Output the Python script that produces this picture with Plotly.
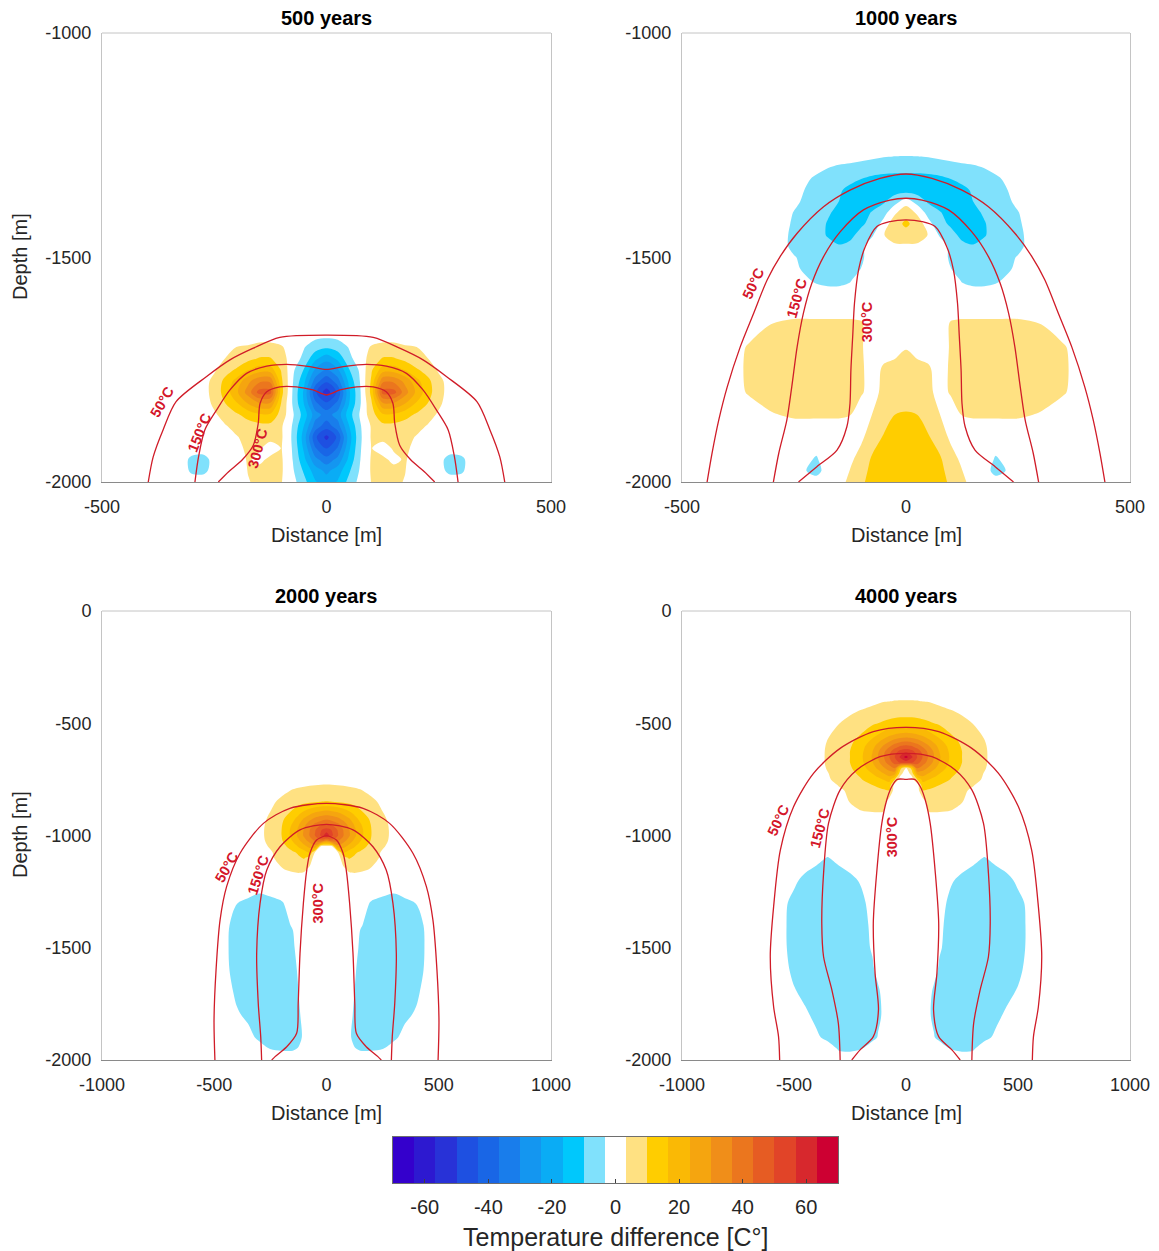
import plotly.graph_objects as go

FIG_W, FIG_H = 1159, 1251
FONT = "Arial, Liberation Sans, Helvetica, sans-serif"

# ---------------- colour bands (21 bands, -70 .. 70) ----------------
BAND_COLORS = [
    "rgb(52,0,204)", "rgb(45,25,208)", "rgb(40,50,215)", "rgb(30,80,225)",
    "rgb(25,102,230)", "rgb(25,125,235)", "rgb(20,150,240)", "rgb(10,172,245)",
    "rgb(0,200,252)", "rgb(128,225,252)", "rgb(255,255,255)", "rgb(255,225,130)",
    "rgb(255,205,0)", "rgb(250,185,5)", "rgb(245,165,15)", "rgb(240,142,25)",
    "rgb(235,118,30)", "rgb(230,92,35)", "rgb(225,68,40)", "rgb(215,40,45)",
    "rgb(205,0,50)",
]
BAND_MIN, BAND_MAX = -70.0, 70.0
CBAR_TICKS = [-60, -40, -20, 0, 20, 40, 60]

PANEL_TITLES = ["500 years", "1000 years", "2000 years", "4000 years"]
ISO_LEVELS = ["50°C", "150°C", "300°C"]

# ---------------- panel 1 : 500 years (half grid, x >= 0) ----------------
P1_X = [0, 25, 50, 75, 100, 125, 150, 175, 200, 225, 250, 275, 300, 325, 550]
P1_Y = [-2000, -1975, -1950, -1925, -1900, -1875, -1850, -1825, -1800,
        -1775, -1750, -1725, -1700, -1675, -1650, -950]
P1_Z = [
    [-20, -16, -8, -1, 3.5, 4.5, 4.5, 3, 0, 0, 0, 0, 0, 0, 0],
    [-25, -20, -11, -2.5, 4, 5, 5, 3.5, 0, 0, -1, -5, -4.5, 0, 0],
    [-34, -28, -15, -3.5, 4, 4.5, 2, 4, 0, 0, -1, -6, -5, 0, 0],
    [-44, -36, -18, -4, 3.5, 1, 4, 5, 1, 0, 0, 0, 0, 0, 0],
    [-52, -42, -20, -4.5, 4, 5, 7, 5, 3, 0, 0, 0, 0, 0, 0],
    [-40, -33, -17, -4, 4, 8, 8, 7, 5, 3, 0.5, 0, 0, 0, 0],
    [-33, -27, -13, -2.5, 7, 15.5, 15.5, 12.5, 9, 5.5, 2.5, 0, 0, 0, 0],
    [-42, -35, -17, -4, 9, 29, 29, 23.5, 16, 10, 4.5, 0.5, 0, 0, 0],
    [-54, -42, -18, -4, 12, 46, 46, 33, 22, 13, 5.5, 1, 0, 0, 0],
    [-42, -33, -15, -3, 11, 35, 35, 28, 19, 12, 5, 1, 0, 0, 0],
    [-30, -24, -10.5, -2, 9, 20, 20, 16, 11, 7, 2.5, 0, 0, 0, 0],
    [-21, -15, -5, 0, 6, 10.5, 10.5, 8, 5, 3.5, 0, 0, 0, 0, 0],
    [-9, -7, -3, 0, 4, 5, 5, 4, 3.5, 1, 0, 0, 0, 0, 0],
    [-2, -1.5, -0.5, 0, 0, 1, 1, 0.5, 0, 0, 0, 0, 0, 0, 0],
    [0, 0, 0, 0, 0, 0, 0, 0, 0, 0, 0, 0, 0, 0, 0],
    [0, 0, 0, 0, 0, 0, 0, 0, 0, 0, 0, 0, 0, 0, 0],
]
P1_ISO50 = [(-397, -2000), (-386, -1944), (-364, -1884), (-335, -1821), (-267, -1765),
            (-215, -1728), (-163, -1702), (-104, -1678), (0, -1673)]
P1_ISO150 = [(-293, -2000), (-285, -1944), (-271, -1884), (-245, -1840), (-215, -1795),
             (-178, -1758), (-133, -1742), (-89, -1738), (-37, -1743), (0, -1749)]
P1_ISO300 = [(-241, -2000), (-218, -1977), (-188, -1951), (-163, -1918), (-152, -1869),
             (-148, -1825), (-133, -1799), (-104, -1788), (-67, -1788), (-30, -1795), (0, -1806)]
P1_LABEL_POS = [(-366, -1822, -60), (-282, -1889, -68), (-153, -1924, -75)]

# ---------------- panel 2 : 1000 years ----------------
P2_X = [0, 25, 50, 75, 100, 125, 150, 175, 200, 250, 300, 350, 400, 550]
P2_Y = [-2000, -1975, -1950, -1900, -1850, -1800, -1750, -1700, -1650, -1600,
        -1575, -1550, -1525, -1500, -1475, -1450, -1425, -1400, -1375, -1350,
        -1325, -1300, -1275, -1250, -950]
P2_Z = [
    [15, 14.5, 13.5, 12, 9, 4.5, 1.5, 0, 0, 0, 0, 0, 0, 0],
    [14.5, 14, 13, 11.5, 8, 3.5, 0.5, 0, -6, 0, 0, 0, 0, 0],
    [14, 13.5, 12.5, 11, 6, 2, 0, 0, -4, 0, 0, 0, 0, 0],
    [13, 12.5, 10.5, 7, 2, 0, 0, 0, 0, 0, 0, 0, 0, 0],
    [10.5, 10, 7, 3.5, 0, 3.5, 4, 4, 4, 4, 3, 0, 0, 0],
    [7, 7, 5, 1, 4, 6, 6, 6, 6, 6, 5.5, 4, 0, 0],
    [6, 5.5, 4.5, 0, 4.5, 6, 6, 6, 6, 6, 6, 4.5, 0, 0],
    [3, 1, 0, 0, 4, 6, 6, 6, 6, 6, 5.5, 4, 0, 0],
    [0, 0, 0, 0, 4, 4.5, 4.5, 4.5, 4.5, 4.5, 3.5, 0.5, 0, 0],
    [0, 0, 0, 0, 0, 0, 0, 0, 0, 0, 0, 0, 0, 0],
    [0, 0, 0, 0, 0, -1, -2, -2, -1, 0, 0, 0, 0, 0],
    [0, 0, 0, 0, 0, -4, -5, -5, -4.5, 0, 0, 0, 0, 0],
    [0, 0, 0, 0, -3.2, -6, -6.5, -6.5, -5.5, -2.5, 0, 0, 0, 0],
    [0, 0, 0, 0, -4.5, -6.5, -7, -7, -6, -3, 0, 0, 0, 0],
    [2, 2, 1, 0.5, -5, -8.5, -9.5, -8, -6.5, -4.5, 0, 0, 0, 0],
    [8, 7, 3, -4, -8, -11.5, -12.5, -10.5, -7.5, -4.5, 0, 0, 0, 0],
    [11, 8, -1, -8, -11, -13, -13, -10.5, -7, -4, 0, 0, 0, 0],
    [8, 2, -6, -9.5, -12.5, -13, -12, -9, -6, -3.5, 0, 0, 0, 0],
    [0, -6, -11, -13, -13.5, -13, -10, -7.5, -5.5, -2.5, 0, 0, 0, 0],
    [-13, -13, -13, -13, -12.5, -12, -9, -7, -5.5, -1.5, 0, 0, 0, 0],
    [-12, -12, -11.5, -11, -10, -8, -6.5, -5.5, -4.5, 0, 0, 0, 0, 0],
    [-8, -8, -8, -7.5, -6.5, -5.5, -4.5, -3.2, -1.5, 0, 0, 0, 0, 0],
    [-3.5, -3.4, -3, -2, -1, 0, 0, 0, 0, 0, 0, 0, 0, 0],
    [0, 0, 0, 0, 0, 0, 0, 0, 0, 0, 0, 0, 0, 0],
    [0, 0, 0, 0, 0, 0, 0, 0, 0, 0, 0, 0, 0, 0],
]
P2_ISO50 = [(-444, -2000), (-433, -1936), (-418, -1862), (-399, -1788), (-370, -1699),
            (-340, -1624), (-310, -1550), (-281, -1498), (-243, -1446), (-184, -1387),
            (-125, -1350), (-58, -1324), (0, -1314)]
P2_ISO150 = [(-296, -2000), (-284, -1936), (-266, -1862), (-255, -1788), (-243, -1699),
             (-229, -1624), (-210, -1557), (-184, -1498), (-147, -1443), (-95, -1394),
             (-36, -1372), (0, -1368)]
P2_ISO300 = [(-240, -2000), (-199, -1966), (-154, -1929), (-132, -1877), (-125, -1825),
             (-123, -1751), (-119, -1676), (-115, -1602), (-106, -1528), (-91, -1476),
             (-65, -1431), (-36, -1420), (0, -1416)]
P2_LABEL_POS = [(-340, -1557, -65), (-243, -1591, -74), (-88, -1643, -90)]

# ---------------- panel 3 : 2000 years ----------------
P3_X = [0, 25, 50, 75, 100, 125, 150, 200, 250, 300, 350, 400, 450, 500, 1050]
P3_Y = [-2000, -1950, -1900, -1800, -1700, -1600, -1500, -1400, -1300, -1250,
        -1200, -1150, -1100, -1075, -1050, -1025, -1000, -975, -950, -925,
        -900, -850, -800, -750, -700, 50]
P3_Z = [
    [0, 0, 0, 0, 0, 0, 0, 0, 0, 0, 0, 0, 0, 0, 0],
    [0, 0, 0, 0, 0, -3, -4, -4, -3.5, 0, 0, 0, 0, 0, 0],
    [0, 0, 0, 0, -2.2, -5, -5, -5, -5, -5, -0.6, 0, 0, 0, 0],
    [0, 0, 0, 0, 0, -5, -5, -5, -5, -5, -5, -2.2, 0, 0, 0],
    [0, 0, 0, 0, 0, -3.4, -5, -5, -5, -5, -5, -5, 0.6, 0, 0],
    [0, 0, 0, 0, 0, -2.7, -5, -5, -5, -5, -5, -5, -2.4, 0, 0],
    [0, 0, 0, 0, 0, 0.2, -5, -5, -5, -5, -5, -5, -2.7, 0, 0],
    [0, 0, 0, 0, 0, 0, -2.9, -5, -5, -5, -5, -5, -2.4, 0, 0],
    [0, 0, 0, 0, 0, 0, 0, -4, -5, -5, -5, -3.2, 0, 0, 0],
    [0, 0, 0, 0, 0, 0, 0, 0, -2, -3, -1, 0, 0, 0, 0],
    [0, 0, 0, 0, 0, 0, 0, 0, 0, 0, 0, 0, 0, 0, 0],
    [0, 0, 0, 2, 4.5, 5, 4.5, 3, 1, 0, 0, 0, 0, 0, 0],
    [0, 0, 0, 7, 10.5, 9, 8, 5, 2.5, 0, 0, 0, 0, 0, 0],
    [0, 0, 2, 17, 14, 11, 9.2, 5.5, 2.8, 0, 0, 0, 0, 0, 0],
    [0, 0, 27, 25, 21, 17, 13, 7.5, 3.8, 1.5, 0, 0, 0, 0, 0],
    [30, 40, 37, 32, 27, 21.5, 17, 9.2, 4.6, 1.9, 0, 0, 0, 0, 0],
    [61, 51, 44, 37, 31, 25, 19, 10, 5, 2, 0, 0, 0, 0, 0],
    [53, 49.5, 43, 36.5, 30.5, 24.5, 19, 10, 5, 2, 0, 0, 0, 0, 0],
    [43, 41.5, 38, 33.5, 28, 22.5, 17.5, 9.5, 4.7, 1.9, 0, 0, 0, 0, 0],
    [35, 33.5, 31.5, 28, 24, 19, 15, 8.5, 4.2, 1.6, 0, 0, 0, 0, 0],
    [27, 26, 24.5, 21.5, 18.5, 15, 11.5, 7, 3.5, 1.3, 0, 0, 0, 0, 0],
    [10.2, 10, 9.6, 9, 8.3, 7.6, 6.8, 4.5, 2.2, 0.5, 0, 0, 0, 0, 0],
    [5.5, 5.4, 5.2, 5, 4.6, 4.2, 3.7, 2, 0.5, 0, 0, 0, 0, 0, 0],
    [1.5, 1.5, 1.3, 1.2, 1, 0.8, 0.5, 0, 0, 0, 0, 0, 0, 0, 0],
    [0, 0, 0, 0, 0, 0, 0, 0, 0, 0, 0, 0, 0, 0, 0],
    [0, 0, 0, 0, 0, 0, 0, 0, 0, 0, 0, 0, 0, 0, 0],
]
P3_ISO50 = [(-497, -2000), (-501, -1822), (-492, -1599), (-474, -1376), (-445, -1228),
            (-385, -1079), (-281, -946), (-163, -879), (0, -857)]
P3_ISO150 = [(-289, -2000), (-293, -1896), (-304, -1747), (-311, -1525), (-296, -1302),
             (-266, -1154), (-207, -1050), (-118, -975), (0, -950)]
P3_ISO300 = [(-244, -2000), (-229, -1985), (-177, -1941), (-133, -1881), (-126, -1747),
             (-118, -1525), (-103, -1302), (-88, -1154), (-74, -1079), (-44, -1020), (0, -1002)]
P3_LABEL_POS = [(-445, -1139, -60), (-304, -1176, -72), (-37, -1302, -90)]

# ---------------- panel 4 : 4000 years ----------------
P4_X = [0, 25, 50, 75, 100, 125, 150, 200, 250, 300, 350, 400, 450, 500, 550, 600, 1050]
P4_Y = [-2000, -1950, -1900, -1800, -1700, -1600, -1500, -1400, -1300, -1200,
        -1100, -1000, -950, -900, -850, -800, -775, -750, -725, -700, -675, -650,
        -625, -600, -575, -550, -500, -450, -400, -350, 50]
P4_Z = [
    [0, 0, 0, 0, 0, 0, 0, 0, 0, 0, 0, 0, 0, 0, 0, 0, 0],
    [0, 0, 0, 0, 0, 0, 0, -3.5, -4.5, -4, 0, 0, 0, 0, 0, 0, 0],
    [0, 0, 0, 0, 0, -3, -5, -5, -5, -5, -5, -2.2, 0, 0, 0, 0, 0],
    [0, 0, 0, 0, -2.5, -4.5, -5, -5, -5, -5, -5, -5, -2.2, 0, 0, 0, 0],
    [0, 0, 0, 0, -1.9, -4.2, -5, -5, -5, -5, -5, -5, -5, -2.6, 0, 0, 0],
    [0, 0, 0, 0, 0, -2, -4, -5, -5, -5, -5, -5, -5, -5, -0.8, 0, 0],
    [0, 0, 0, 0, 0, -0.5, -2.9, -5, -5, -5, -5, -5, -5, -5, -2.4, 0, 0],
    [0, 0, 0, 0, 0, -0.3, -2.4, -5, -5, -5, -5, -5, -5, -5, -2.5, 0, 0],
    [0, 0, 0, 0, 0, 0, -0.8, -5, -5, -5, -5, -5, -5, -5, -2, 0, 0],
    [0, 0, 0, 0, 0, 0, 0, -2.6, -5, -5, -5, -5, -5, -2.2, 0, 0, 0],
    [0, 0, 0, 0, 0, 0, 0, 0, 0, -2.5, -3.5, -2.5, 0, 0, 0, 0, 0],
    [0, 0, 0, 0, 0, 0, 0, 0, 0, 0, 0, 0, 0, 0, 0, 0, 0],
    [0, 0, 0, 0, 0, 0, 0, 0, 0, 0, 0, 0, 0, 0, 0, 0, 0],
    [0, 0, 0, 0, 3, 3.1, 3.1, 3, 1.5, 0, 0, 0, 0, 0, 0, 0, 0],
    [0, 0, 0, 0, 6, 6, 5.5, 4.5, 3.5, 1.5, 0, 0, 0, 0, 0, 0, 0],
    [0, 0, 0, 9.8, 9.2, 8.4, 7.5, 5.8, 4.1, 2.6, 0.6, 0, 0, 0, 0, 0, 0],
    [0, 0, 0, 14, 12.5, 11.2, 10, 7.6, 5.5, 3.6, 1.5, 0, 0, 0, 0, 0, 0],
    [0, 0, 10, 19, 17, 15, 13.5, 9.7, 6.8, 4.6, 2.8, 0.7, 0, 0, 0, 0, 0],
    [0, 5, 25, 26.5, 23, 19.5, 16.5, 11.5, 8, 5.3, 3.1, 0.9, 0, 0, 0, 0, 0],
    [2, 12, 37, 33, 29, 24.5, 20.5, 13.5, 9.2, 6, 3.7, 1.2, 0, 0, 0, 0, 0],
    [53, 51, 46, 40, 34, 28.5, 23, 15, 10, 6.3, 4, 1.4, 0, 0, 0, 0, 0],
    [66, 58, 50, 43, 36, 30, 24, 15.5, 10, 6.5, 4, 1.5, 0, 0, 0, 0, 0],
    [54, 52, 47, 41, 35, 29, 23, 15, 10, 6.4, 4, 1.4, 0, 0, 0, 0, 0],
    [44, 43, 39.5, 35, 30.5, 25.5, 21, 14, 9.3, 6.1, 3.8, 1.3, 0, 0, 0, 0, 0],
    [34, 33, 31, 28, 24.5, 21, 17.5, 12.2, 8.4, 5.5, 3.4, 1.1, 0, 0, 0, 0, 0],
    [25, 24.5, 23.5, 21.5, 19, 16.5, 14.5, 10.2, 7, 4.8, 2.8, 0.7, 0, 0, 0, 0, 0],
    [13.5, 13.3, 12.8, 12, 11, 10, 9, 6.9, 5, 3.2, 1.1, 0, 0, 0, 0, 0, 0],
    [7, 7, 6.9, 6.5, 6.1, 5.5, 5.1, 3.9, 2.6, 0.9, 0, 0, 0, 0, 0, 0, 0],
    [3.5, 3.5, 3.4, 3.1, 3, 2.6, 2, 1, 0.3, 0, 0, 0, 0, 0, 0, 0, 0],
    [0, 0, 0, 0, 0, 0, 0, 0, 0, 0, 0, 0, 0, 0, 0, 0, 0],
    [0, 0, 0, 0, 0, 0, 0, 0, 0, 0, 0, 0, 0, 0, 0, 0, 0],
]
P4_ISO50 = [(-564, -2000), (-569, -1896), (-591, -1763), (-606, -1540), (-591, -1317),
            (-561, -1065), (-502, -872), (-413, -723), (-294, -612), (-146, -537), (0, -518)]
P4_ISO150 = [(-294, -2000), (-302, -1837), (-331, -1688), (-368, -1540), (-376, -1391),
             (-368, -1168), (-346, -946), (-294, -797), (-220, -708), (-116, -649), (0, -634)]
P4_ISO300 = [(-242, -2000), (-205, -1955), (-146, -1896), (-123, -1777), (-138, -1614),
             (-146, -1391), (-131, -1168), (-108, -946), (-86, -842), (-64, -783),
             (-39, -750), (0, -750)]
P4_LABEL_POS = [(-569, -931, -65), (-383, -968, -75), (-64, -1005, -90)]

# ---------------- axes ranges / ticks ----------------
TOP_XRANGE, TOP_YRANGE = [-500, 500], [-2000, -1000]
TOP_XTICKS, TOP_YTICKS = [-500, 0, 500], [-2000, -1500, -1000]
BOT_XRANGE, BOT_YRANGE = [-1000, 1000], [-2000, 0]
BOT_XTICKS, BOT_YTICKS = [-1000, -500, 0, 500, 1000], [-2000, -1500, -1000, -500, 0]


def mirror_grid(xh, zh):
    x = [-v for v in reversed(xh[1:])] + list(xh)
    z = [list(reversed(r[1:])) + list(r) for r in zh]
    return x, z


def mirror_curve(pts):
    xs = [p[0] for p in pts] + [-p[0] for p in reversed(pts[:-1])]
    ys = [p[1] for p in pts] + [p[1] for p in reversed(pts[:-1])]
    return xs, ys


n_bands = len(BAND_COLORS)
band_step = (BAND_MAX - BAND_MIN) / n_bands
colorscale = [[k / (n_bands - 1), c] for k, c in enumerate(BAND_COLORS)]

fig = go.Figure()


def add_field(xh, yv, zh, ax):
    x, z = mirror_grid(xh, zh)
    fig.add_trace(go.Contour(
        x=x, y=yv, z=z, xaxis="x" + ax, yaxis="y" + ax,
        colorscale=colorscale, autocontour=False,
        contours=dict(start=BAND_MIN + band_step, end=BAND_MAX - band_step,
                      size=band_step, coloring="fill", showlines=False),
        line=dict(width=0, smoothing=0.9),
        showscale=False, hoverinfo="skip",
    ))


LINE_COLOR = "rgb(208,28,40)"


def add_isos(curves, ax):
    for pts in curves:
        xs, ys = mirror_curve(pts)
        fig.add_trace(go.Scatter(
            x=xs, y=ys, mode="lines", xaxis="x" + ax, yaxis="y" + ax,
            line=dict(color=LINE_COLOR, width=1.3, shape="spline", smoothing=0.8),
            showlegend=False, hoverinfo="skip",
        ))


add_field(P1_X, P1_Y, P1_Z, "")
add_field(P2_X, P2_Y, P2_Z, "2")
add_field(P3_X, P3_Y, P3_Z, "3")
add_field(P4_X, P4_Y, P4_Z, "4")

add_isos([P1_ISO50, P1_ISO150, P1_ISO300], "")
add_isos([P2_ISO50, P2_ISO150, P2_ISO300], "2")
add_isos([P3_ISO50, P3_ISO150, P3_ISO300], "3")
add_isos([P4_ISO50, P4_ISO150, P4_ISO300], "4")

# colour bar as its own small axis
fig.add_trace(go.Heatmap(
    x=[BAND_MIN + band_step * (k + 0.5) for k in range(n_bands)], y=[0],
    z=[list(range(n_bands))], zmin=0, zmax=n_bands - 1,
    colorscale=colorscale, showscale=False, hoverinfo="skip",
    xaxis="x5", yaxis="y5",
))

annotations = []
for labels, ax in [(P1_LABEL_POS, ""), (P2_LABEL_POS, "2"),
                   (P3_LABEL_POS, "3"), (P4_LABEL_POS, "4")]:
    for text, (lx, ly, ang) in zip(ISO_LEVELS, labels):
        annotations.append(dict(
            x=lx, y=ly, xref="x" + ax, yref="y" + ax, text="<b>%s</b>" % text,
            showarrow=False, textangle=ang,
            font=dict(family=FONT, size=14.5, color="rgb(212,22,42)"),
        ))


def px(xp):
    return xp / FIG_W


def py(yp):
    return 1 - yp / FIG_H


TITLE_FONT = dict(family=FONT, size=20, color="#000000")
AX_FONT = dict(family=FONT, size=20, color="#262626")
for t, (cx, cy) in zip(PANEL_TITLES, [(326, 18), (906, 18), (326, 596), (906, 596)]):
    annotations.append(dict(x=px(cx), y=py(cy), xref="paper", yref="paper",
                            text="<b>%s</b>" % t, showarrow=False, font=TITLE_FONT,
                            xanchor="center", yanchor="middle"))
for cx, cy in [(326, 535), (906, 535), (326, 1113), (906, 1113)]:
    annotations.append(dict(x=px(cx), y=py(cy), xref="paper", yref="paper",
                            text="Distance [m]", showarrow=False, font=AX_FONT,
                            xanchor="center", yanchor="middle"))
for cy in [257, 835]:
    annotations.append(dict(x=px(20), y=py(cy), xref="paper", yref="paper",
                            text="Depth [m]", showarrow=False, font=AX_FONT,
                            textangle=-90, xanchor="center", yanchor="middle"))
annotations.append(dict(x=px(616), y=py(1237), xref="paper", yref="paper",
                        text="Temperature difference [C°]", showarrow=False,
                        font=dict(family=FONT, size=25, color="#262626"),
                        xanchor="center", yanchor="middle"))

TICK_FONT = dict(family=FONT, size=18, color="#262626")
LIGHT = "#c4c4c4"
DARK = "#8a8a8a"

dom_left = [px(102), px(551)]
dom_right = [px(682), px(1130)]
dom_top = [py(482), py(33)]
dom_bot = [py(1060), py(611)]


def xax(domain, rng, ticks, anchor):
    return dict(domain=domain, range=rng, tickvals=ticks,
                ticktext=[str(t) for t in ticks], anchor=anchor,
                showgrid=False, zeroline=False, showline=True, linecolor=DARK,
                linewidth=1, ticks="", tickfont=TICK_FONT, ticklabelstandoff=8,
                automargin=False, fixedrange=True)


def yax(domain, rng, ticks, anchor):
    return dict(domain=domain, range=rng, tickvals=ticks,
                ticktext=[str(t) for t in ticks], anchor=anchor,
                showgrid=False, zeroline=False, showline=True, linecolor=LIGHT,
                mirror=True, linewidth=1, ticks="", tickfont=TICK_FONT,
                ticklabelstandoff=6, automargin=False, fixedrange=True)


shapes = []
for ax in ["x", "x2", "x3", "x4"]:
    yref = ax.replace("x", "y")
    shapes.append(dict(type="line", xref=ax + " domain", yref=yref + " domain",
                       x0=0, x1=1, y0=1, y1=1, line=dict(color=LIGHT, width=1)))

fig.update_layout(
    width=FIG_W, height=FIG_H, autosize=False,
    margin=dict(l=0, r=0, t=0, b=0, pad=0, autoexpand=False),
    paper_bgcolor="white", plot_bgcolor="white",
    showlegend=False,
    font=dict(family=FONT, color="#262626"),
    xaxis=xax(dom_left, TOP_XRANGE, TOP_XTICKS, "y"),
    yaxis=yax(dom_top, TOP_YRANGE, TOP_YTICKS, "x"),
    xaxis2=xax(dom_right, TOP_XRANGE, TOP_XTICKS, "y2"),
    yaxis2=yax(dom_top, TOP_YRANGE, TOP_YTICKS, "x2"),
    xaxis3=xax(dom_left, BOT_XRANGE, BOT_XTICKS, "y3"),
    yaxis3=yax(dom_bot, BOT_YRANGE, BOT_YTICKS, "x3"),
    xaxis4=xax(dom_right, BOT_XRANGE, BOT_XTICKS, "y4"),
    yaxis4=yax(dom_bot, BOT_YRANGE, BOT_YTICKS, "x4"),
    xaxis5=dict(domain=[px(393), px(838)], range=[BAND_MIN, BAND_MAX], anchor="y5",
                tickvals=CBAR_TICKS, ticktext=[str(t) for t in CBAR_TICKS],
                showgrid=False, zeroline=False, showline=True,
                linecolor="#6e6e6e", mirror=True, ticks="inside", ticklen=4,
                tickcolor="#404040", tickfont=dict(family=FONT, size=20, color="#262626"),
                ticklabelstandoff=6, automargin=False, fixedrange=True),
    yaxis5=dict(domain=[py(1183), py(1137)], range=[-0.5, 0.5], anchor="x5",
                showticklabels=False, showgrid=False, zeroline=False, showline=True,
                linecolor="#6e6e6e", mirror=True, ticks="", automargin=False,
                fixedrange=True),
    annotations=annotations,
    shapes=shapes,
)

fig.write_html("out.html")
